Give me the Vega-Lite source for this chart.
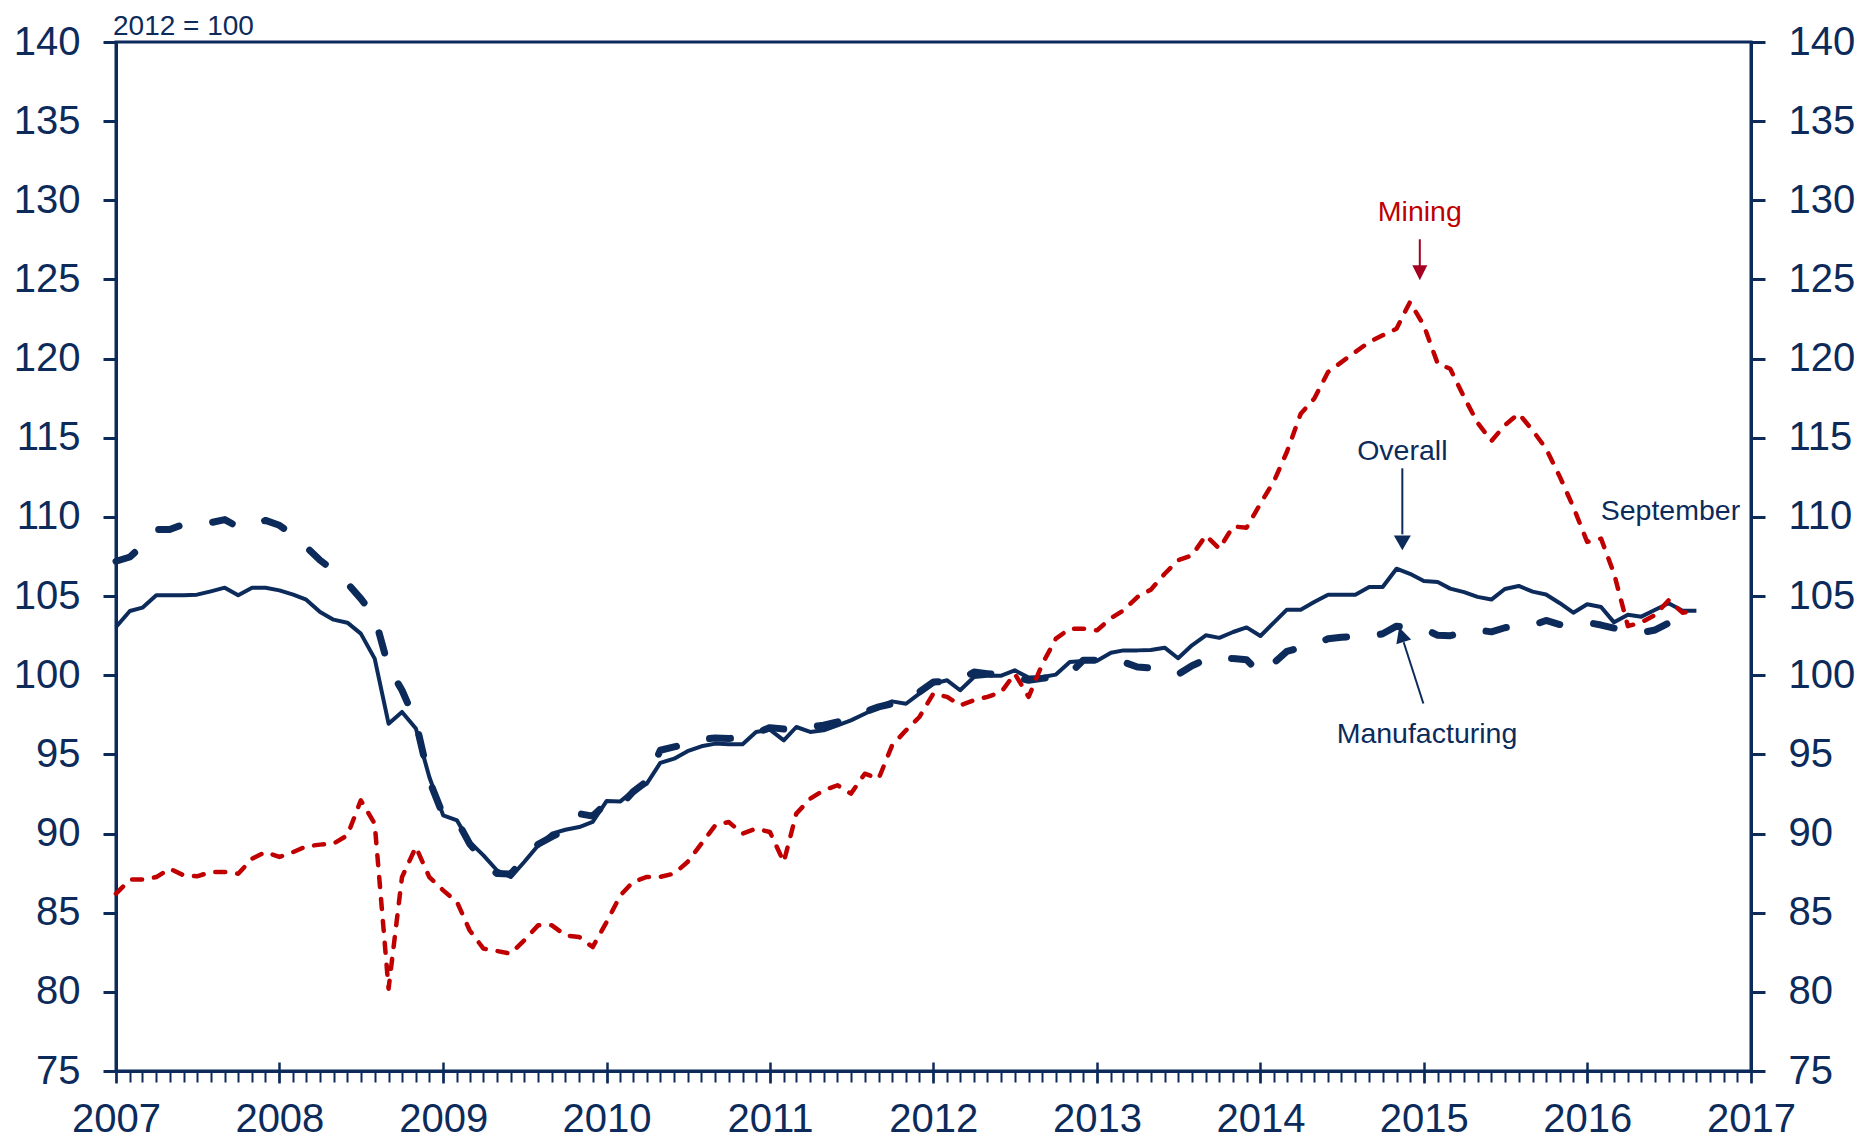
{
  "$schema": "https://vega.github.io/schema/vega-lite/v6.json",
  "width": 1635,
  "height": 1029,
  "autosize": {"type": "none"},
  "padding": {"left": 116, "top": 42, "right": 123, "bottom": 76},
  "background": "white",
  "config": {
    "view": {"stroke": "#0c2b5b", "strokeWidth": 3},
    "axis": {"grid": false, "title": null, "domainColor": "#0c2b5b", "tickColor": "#0c2b5b", "labelColor": "#0c2b5b", "labelFont": "Liberation Sans"},
    "text": {"font": "Liberation Sans"}
  },
  "data": {"values": [
    {"date": "2007/01/01", "Overall": 103.05, "Manufacturing": 107.2, "Mining": 86.2},
    {"date": "2007/02/01", "Overall": 104.06, "Manufacturing": 107.47, "Mining": 87.09},
    {"date": "2007/03/01", "Overall": 104.27, "Manufacturing": 108.2, "Mining": 87.09},
    {"date": "2007/04/01", "Overall": 105.05, "Manufacturing": 109.2, "Mining": 87.25},
    {"date": "2007/05/01", "Overall": 105.05, "Manufacturing": 109.2, "Mining": 87.78},
    {"date": "2007/06/01", "Overall": 105.05, "Manufacturing": 109.53, "Mining": 87.36},
    {"date": "2007/07/01", "Overall": 105.09, "Manufacturing": 109.6, "Mining": 87.3},
    {"date": "2007/08/01", "Overall": 105.3, "Manufacturing": 109.64, "Mining": 87.57},
    {"date": "2007/09/01", "Overall": 105.53, "Manufacturing": 109.83, "Mining": 87.57},
    {"date": "2007/10/01", "Overall": 105.05, "Manufacturing": 109.36, "Mining": 87.46},
    {"date": "2007/11/01", "Overall": 105.53, "Manufacturing": 109.5, "Mining": 88.41},
    {"date": "2007/12/01", "Overall": 105.53, "Manufacturing": 109.78, "Mining": 88.83},
    {"date": "2008/01/01", "Overall": 105.36, "Manufacturing": 109.47, "Mining": 88.52},
    {"date": "2008/02/01", "Overall": 105.09, "Manufacturing": 108.84, "Mining": 88.83},
    {"date": "2008/03/01", "Overall": 104.77, "Manufacturing": 108.1, "Mining": 89.19},
    {"date": "2008/04/01", "Overall": 103.99, "Manufacturing": 107.26, "Mining": 89.3},
    {"date": "2008/05/01", "Overall": 103.51, "Manufacturing": 106.63, "Mining": 89.36},
    {"date": "2008/06/01", "Overall": 103.32, "Manufacturing": 105.8, "Mining": 89.89},
    {"date": "2008/07/01", "Overall": 102.63, "Manufacturing": 104.84, "Mining": 92.1},
    {"date": "2008/08/01", "Overall": 101.05, "Manufacturing": 103.68, "Mining": 90.62},
    {"date": "2008/09/01", "Overall": 96.94, "Manufacturing": 100.5, "Mining": 80.2},
    {"date": "2008/10/01", "Overall": 97.68, "Manufacturing": 99.05, "Mining": 87.25},
    {"date": "2008/11/01", "Overall": 96.63, "Manufacturing": 97.05, "Mining": 89.15},
    {"date": "2008/12/01", "Overall": 93.57, "Manufacturing": 93.36, "Mining": 87.25},
    {"date": "2009/01/01", "Overall": 91.15, "Manufacturing": 91.15, "Mining": 86.41},
    {"date": "2009/02/01", "Overall": 90.83, "Manufacturing": 90.83, "Mining": 85.67},
    {"date": "2009/03/01", "Overall": 89.47, "Manufacturing": 89.36, "Mining": 83.89},
    {"date": "2009/04/01", "Overall": 88.62, "Manufacturing": 88.31, "Mining": 82.73},
    {"date": "2009/05/01", "Overall": 87.68, "Manufacturing": 87.47, "Mining": 82.58},
    {"date": "2009/06/01", "Overall": 87.25, "Manufacturing": 87.45, "Mining": 82.41},
    {"date": "2009/07/01", "Overall": 88.2, "Manufacturing": 88.41, "Mining": 83.25},
    {"date": "2009/08/01", "Overall": 89.25, "Manufacturing": 89.32, "Mining": 84.2},
    {"date": "2009/09/01", "Overall": 89.99, "Manufacturing": 89.8, "Mining": 84.2},
    {"date": "2009/10/01", "Overall": 90.24, "Manufacturing": 90.2, "Mining": 83.57},
    {"date": "2009/11/01", "Overall": 90.41, "Manufacturing": 91.25, "Mining": 83.46},
    {"date": "2009/12/01", "Overall": 90.73, "Manufacturing": 91.1, "Mining": 82.83},
    {"date": "2010/01/01", "Overall": 92.05, "Manufacturing": 91.93, "Mining": 84.4},
    {"date": "2010/02/01", "Overall": 92.03, "Manufacturing": 91.78, "Mining": 86.1},
    {"date": "2010/03/01", "Overall": 92.69, "Manufacturing": 92.63, "Mining": 86.94},
    {"date": "2010/04/01", "Overall": 93.15, "Manufacturing": 93.3, "Mining": 87.26},
    {"date": "2010/05/01", "Overall": 94.46, "Manufacturing": 95.26, "Mining": 87.26},
    {"date": "2010/06/01", "Overall": 94.73, "Manufacturing": 95.47, "Mining": 87.47},
    {"date": "2010/07/01", "Overall": 95.2, "Manufacturing": 95.68, "Mining": 88.2},
    {"date": "2010/08/01", "Overall": 95.51, "Manufacturing": 95.95, "Mining": 89.36},
    {"date": "2010/09/01", "Overall": 95.68, "Manufacturing": 96.03, "Mining": 90.52},
    {"date": "2010/10/01", "Overall": 95.64, "Manufacturing": 96.0, "Mining": 90.73},
    {"date": "2010/11/01", "Overall": 95.64, "Manufacturing": 96.1, "Mining": 89.99},
    {"date": "2010/12/01", "Overall": 96.42, "Manufacturing": 96.35, "Mining": 90.31},
    {"date": "2011/01/01", "Overall": 96.56, "Manufacturing": 96.69, "Mining": 90.1},
    {"date": "2011/02/01", "Overall": 95.89, "Manufacturing": 96.6, "Mining": 88.2},
    {"date": "2011/03/01", "Overall": 96.73, "Manufacturing": 96.77, "Mining": 91.26},
    {"date": "2011/04/01", "Overall": 96.42, "Manufacturing": 96.73, "Mining": 92.2},
    {"date": "2011/05/01", "Overall": 96.52, "Manufacturing": 96.84, "Mining": 92.73},
    {"date": "2011/06/01", "Overall": 96.84, "Manufacturing": 97.05, "Mining": 93.05},
    {"date": "2011/07/01", "Overall": 97.15, "Manufacturing": 97.3, "Mining": 92.52},
    {"date": "2011/08/01", "Overall": 97.57, "Manufacturing": 97.68, "Mining": 93.78},
    {"date": "2011/09/01", "Overall": 98.0, "Manufacturing": 98.0, "Mining": 93.47},
    {"date": "2011/10/01", "Overall": 98.35, "Manufacturing": 98.2, "Mining": 95.57},
    {"date": "2011/11/01", "Overall": 98.2, "Manufacturing": 98.3, "Mining": 96.52},
    {"date": "2011/12/01", "Overall": 98.84, "Manufacturing": 98.94, "Mining": 97.36},
    {"date": "2012/01/01", "Overall": 99.47, "Manufacturing": 99.57, "Mining": 98.84},
    {"date": "2012/02/01", "Overall": 99.68, "Manufacturing": 99.6, "Mining": 98.63},
    {"date": "2012/03/01", "Overall": 99.05, "Manufacturing": 99.72, "Mining": 98.1},
    {"date": "2012/04/01", "Overall": 99.89, "Manufacturing": 100.2, "Mining": 98.42},
    {"date": "2012/05/01", "Overall": 99.97, "Manufacturing": 100.1, "Mining": 98.63},
    {"date": "2012/06/01", "Overall": 99.97, "Manufacturing": 100.0, "Mining": 98.94},
    {"date": "2012/07/01", "Overall": 100.31, "Manufacturing": 99.89, "Mining": 100.1},
    {"date": "2012/08/01", "Overall": 99.85, "Manufacturing": 99.68, "Mining": 98.63},
    {"date": "2012/09/01", "Overall": 99.89, "Manufacturing": 99.8, "Mining": 100.73},
    {"date": "2012/10/01", "Overall": 100.04, "Manufacturing": 99.9, "Mining": 102.31},
    {"date": "2012/11/01", "Overall": 100.84, "Manufacturing": 100.1, "Mining": 102.94},
    {"date": "2012/12/01", "Overall": 100.9, "Manufacturing": 100.94, "Mining": 102.94},
    {"date": "2013/01/01", "Overall": 100.92, "Manufacturing": 100.95, "Mining": 102.84},
    {"date": "2013/02/01", "Overall": 101.42, "Manufacturing": 101.1, "Mining": 103.6},
    {"date": "2013/03/01", "Overall": 101.57, "Manufacturing": 100.83, "Mining": 104.1},
    {"date": "2013/04/01", "Overall": 101.57, "Manufacturing": 100.52, "Mining": 104.94},
    {"date": "2013/05/01", "Overall": 101.6, "Manufacturing": 100.45, "Mining": 105.4},
    {"date": "2013/06/01", "Overall": 101.74, "Manufacturing": 100.3, "Mining": 106.41},
    {"date": "2013/07/01", "Overall": 101.07, "Manufacturing": 100.05, "Mining": 107.26},
    {"date": "2013/08/01", "Overall": 101.89, "Manufacturing": 100.6, "Mining": 107.57},
    {"date": "2013/09/01", "Overall": 102.52, "Manufacturing": 101.0, "Mining": 108.83},
    {"date": "2013/10/01", "Overall": 102.36, "Manufacturing": 101.15, "Mining": 107.99},
    {"date": "2013/11/01", "Overall": 102.73, "Manufacturing": 101.05, "Mining": 109.4},
    {"date": "2013/12/01", "Overall": 103.02, "Manufacturing": 100.98, "Mining": 109.32},
    {"date": "2014/01/01", "Overall": 102.48, "Manufacturing": 100.1, "Mining": 110.84},
    {"date": "2014/02/01", "Overall": 103.36, "Manufacturing": 100.8, "Mining": 112.31},
    {"date": "2014/03/01", "Overall": 104.14, "Manufacturing": 101.5, "Mining": 114.1},
    {"date": "2014/04/01", "Overall": 104.14, "Manufacturing": 101.75, "Mining": 116.52},
    {"date": "2014/05/01", "Overall": 104.62, "Manufacturing": 101.95, "Mining": 117.47},
    {"date": "2014/06/01", "Overall": 105.09, "Manufacturing": 102.3, "Mining": 119.15},
    {"date": "2014/07/01", "Overall": 105.09, "Manufacturing": 102.4, "Mining": 119.78},
    {"date": "2014/08/01", "Overall": 105.09, "Manufacturing": 102.45, "Mining": 120.42},
    {"date": "2014/09/01", "Overall": 105.57, "Manufacturing": 102.45, "Mining": 121.05},
    {"date": "2014/10/01", "Overall": 105.57, "Manufacturing": 102.62, "Mining": 121.47},
    {"date": "2014/11/01", "Overall": 106.73, "Manufacturing": 103.1, "Mining": 121.89},
    {"date": "2014/12/01", "Overall": 106.41, "Manufacturing": 103.0, "Mining": 123.57},
    {"date": "2015/01/01", "Overall": 105.95, "Manufacturing": 102.94, "Mining": 122.1},
    {"date": "2015/02/01", "Overall": 105.89, "Manufacturing": 102.52, "Mining": 119.68},
    {"date": "2015/03/01", "Overall": 105.47, "Manufacturing": 102.5, "Mining": 119.36},
    {"date": "2015/04/01", "Overall": 105.25, "Manufacturing": 102.7, "Mining": 117.57},
    {"date": "2015/05/01", "Overall": 104.95, "Manufacturing": 102.86, "Mining": 115.95},
    {"date": "2015/06/01", "Overall": 104.78, "Manufacturing": 102.74, "Mining": 114.8},
    {"date": "2015/07/01", "Overall": 105.45, "Manufacturing": 103.0, "Mining": 115.79},
    {"date": "2015/08/01", "Overall": 105.64, "Manufacturing": 103.1, "Mining": 116.53},
    {"date": "2015/09/01", "Overall": 105.28, "Manufacturing": 103.15, "Mining": 115.47},
    {"date": "2015/10/01", "Overall": 105.1, "Manufacturing": 103.46, "Mining": 114.32},
    {"date": "2015/11/01", "Overall": 104.55, "Manufacturing": 103.2, "Mining": 112.53},
    {"date": "2015/12/01", "Overall": 103.95, "Manufacturing": 103.3, "Mining": 110.63},
    {"date": "2016/01/01", "Overall": 104.48, "Manufacturing": 103.34, "Mining": 108.42},
    {"date": "2016/02/01", "Overall": 104.31, "Manufacturing": 103.17, "Mining": 108.63},
    {"date": "2016/03/01", "Overall": 103.34, "Manufacturing": 102.98, "Mining": 106.42},
    {"date": "2016/04/01", "Overall": 103.82, "Manufacturing": 102.8, "Mining": 103.1},
    {"date": "2016/05/01", "Overall": 103.7, "Manufacturing": 102.69, "Mining": 103.34},
    {"date": "2016/06/01", "Overall": 104.14, "Manufacturing": 102.86, "Mining": 103.8},
    {"date": "2016/07/01", "Overall": 104.55, "Manufacturing": 103.29, "Mining": 104.74},
    {"date": "2016/08/01", "Overall": 104.07, "Manufacturing": 103.8, "Mining": 103.95},
    {"date": "2016/09/01", "Overall": 104.07, "Manufacturing": 104.1, "Mining": 104.07}
  ]},
  "layer": [
    {
      "mark": {"type": "line", "color": "#0c2b5b", "strokeWidth": 7, "strokeDash": [21, 34], "strokeCap": "round", "strokeJoin": "round"},
      "encoding": {
        "x": {"field": "date", "type": "temporal",
          "scale": {"domain": [{"year": 2007, "month": 1, "date": 1}, {"year": 2017, "month": 1, "date": 1}]},
          "axis": {"orient": "bottom", "tickCount": {"interval": "month", "step": 1}, "labels": false, "tickSize": 11, "tickWidth": 2, "domain": true, "domainWidth": 3}},
        "y": {"field": "Manufacturing", "type": "quantitative",
          "scale": {"domain": [75, 140], "nice": false, "zero": false},
          "axis": {"orient": "left", "values": [75, 80, 85, 90, 95, 100, 105, 110, 115, 120, 125, 130, 135, 140], "tickSize": 13, "tickWidth": 3, "domainWidth": 3, "labelFontSize": 40, "labelPadding": 23}}
      }
    },
    {
      "mark": {"type": "line", "color": "#0c2b5b", "strokeWidth": 4, "strokeJoin": "round"},
      "encoding": {
        "x": {"field": "date", "type": "temporal",
          "axis": {"orient": "bottom", "offset": -9, "values": [{"year": 2007, "month": 1, "date": 1}, {"year": 2008, "month": 1, "date": 1}, {"year": 2009, "month": 1, "date": 1}, {"year": 2010, "month": 1, "date": 1}, {"year": 2011, "month": 1, "date": 1}, {"year": 2012, "month": 1, "date": 1}, {"year": 2013, "month": 1, "date": 1}, {"year": 2014, "month": 1, "date": 1}, {"year": 2015, "month": 1, "date": 1}, {"year": 2016, "month": 1, "date": 1}, {"year": 2017, "month": 1, "date": 1}],
            "format": "%Y", "tickSize": 21, "tickWidth": 2.5, "domain": false, "labelFontSize": 40, "labelPadding": 16, "labelFlush": false, "labelOverlap": false, "labelBound": false}},
        "y": {"field": "Overall", "type": "quantitative",
          "axis": {"orient": "right", "values": [75, 80, 85, 90, 95, 100, 105, 110, 115, 120, 125, 130, 135, 140], "tickSize": 14, "tickWidth": 3, "domainWidth": 3, "labelFontSize": 40, "labelPadding": 23}}
      }
    },
    {
      "mark": {"type": "line", "color": "#c00000", "strokeWidth": 4.5, "strokeDash": [10, 12], "strokeCap": "round", "strokeJoin": "round"},
      "encoding": {
        "x": {"field": "date", "type": "temporal", "axis": null},
        "y": {"field": "Mining", "type": "quantitative", "axis": null}
      }
    },
    {
      "data": {"values": [{}]},
      "mark": {"type": "text", "text": "2012 = 100", "fontSize": 28, "color": "#0c2b5b", "align": "left", "baseline": "alphabetic", "dx": -3},
      "encoding": {
        "x": {"datum": {"year": 2007, "month": 1, "date": 1}, "type": "temporal", "axis": null},
        "y": {"datum": 140.42, "type": "quantitative", "axis": null}
      }
    },
    {
      "data": {"values": [{}]},
      "mark": {"type": "text", "text": "Mining", "fontSize": 28.5, "color": "#c00000", "align": "center", "baseline": "alphabetic"},
      "encoding": {
        "x": {"datum": {"year": 2014, "month": 12, "date": 23}, "type": "temporal", "axis": null},
        "y": {"datum": 128.67, "type": "quantitative", "axis": null}
      }
    },
    {
      "data": {"values": [{}]},
      "mark": {"type": "rule", "color": "#a50021", "strokeWidth": 2},
      "encoding": {
        "x": {"datum": {"year": 2014, "month": 12, "date": 23}, "type": "temporal", "axis": null},
        "y": {"datum": 127.54, "type": "quantitative", "axis": null},
        "y2": {"datum": 125.8}
      }
    },
    {
      "data": {"values": [{}]},
      "mark": {"type": "point", "shape": "M-1,-1L1,-1L0,1Z", "size": 225, "filled": true, "opacity": 1, "color": "#a50021"},
      "encoding": {
        "x": {"datum": {"year": 2014, "month": 12, "date": 23}, "type": "temporal", "axis": null},
        "y": {"datum": 125.42, "type": "quantitative", "axis": null}
      }
    },
    {
      "data": {"values": [{}]},
      "mark": {"type": "text", "text": "Overall", "fontSize": 28.5, "color": "#0c2b5b", "align": "center", "baseline": "alphabetic"},
      "encoding": {
        "x": {"datum": {"year": 2014, "month": 11, "date": 14}, "type": "temporal", "axis": null},
        "y": {"datum": 113.58, "type": "quantitative", "axis": null}
      }
    },
    {
      "data": {"values": [{}]},
      "mark": {"type": "rule", "color": "#0c2b5b", "strokeWidth": 2},
      "encoding": {
        "x": {"datum": {"year": 2014, "month": 11, "date": 14}, "type": "temporal", "axis": null},
        "y": {"datum": 113.07, "type": "quantitative", "axis": null},
        "y2": {"datum": 108.9}
      }
    },
    {
      "data": {"values": [{}]},
      "mark": {"type": "point", "shape": "M-1,-0.88L1,-0.88L0,0.88Z", "size": 289, "filled": true, "opacity": 1, "color": "#0c2b5b"},
      "encoding": {
        "x": {"datum": {"year": 2014, "month": 11, "date": 14}, "type": "temporal", "axis": null},
        "y": {"datum": 108.36, "type": "quantitative", "axis": null}
      }
    },
    {
      "data": {"values": [{}]},
      "mark": {"type": "rule", "color": "#0c2b5b", "strokeWidth": 2},
      "encoding": {
        "x": {"datum": {"year": 2014, "month": 12, "date": 31}, "type": "temporal", "axis": null},
        "y": {"datum": 98.21, "type": "quantitative", "axis": null},
        "x2": {"datum": {"year": 2014, "month": 11, "date": 17}},
        "y2": {"datum": 102.08}
      }
    },
    {
      "data": {"values": [{}]},
      "mark": {"type": "point", "shape": "M-1,1L1,1L0,-1Z", "size": 240, "filled": true, "opacity": 1, "color": "#0c2b5b", "angle": 342.6},
      "encoding": {
        "x": {"datum": {"year": 2014, "month": 11, "date": 12}, "type": "temporal", "axis": null},
        "y": {"datum": 102.57, "type": "quantitative", "axis": null}
      }
    },
    {
      "data": {"values": [{}]},
      "mark": {"type": "text", "text": "Manufacturing", "fontSize": 28.5, "color": "#0c2b5b", "align": "center", "baseline": "alphabetic"},
      "encoding": {
        "x": {"datum": {"year": 2015, "month": 1, "date": 8}, "type": "temporal", "axis": null},
        "y": {"datum": 95.72, "type": "quantitative", "axis": null}
      }
    },
    {
      "data": {"values": [{}]},
      "mark": {"type": "text", "text": "September", "fontSize": 28.5, "color": "#0c2b5b", "align": "center", "baseline": "alphabetic"},
      "encoding": {
        "x": {"datum": {"year": 2016, "month": 7, "date": 5}, "type": "temporal", "axis": null},
        "y": {"datum": 109.79, "type": "quantitative", "axis": null}
      }
    }
  ],
  "resolve": {"axis": {"x": "independent", "y": "independent"}}
}
